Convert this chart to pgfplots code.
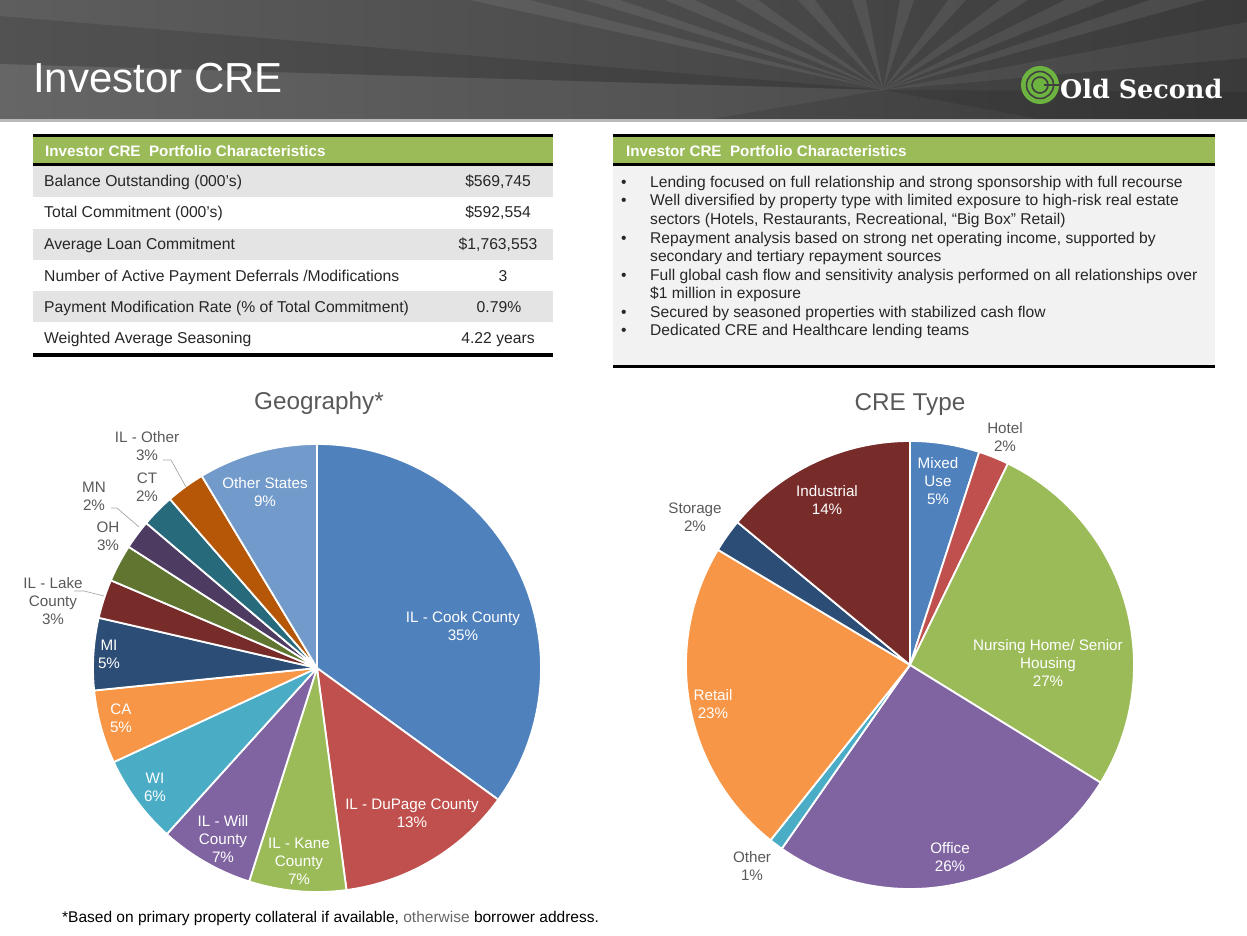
\documentclass[border=0pt]{standalone}
\usepackage{pgfplots}
\pgfplotsset{compat=1.18}
\usepackage{pgfplotstable}
\usepackage{fontspec}
\setmainfont{Liberation Sans}
\newfontfamily\logofont{DejaVu Serif}

\definecolor{cA}{HTML}{4F81BD}
\definecolor{cB}{HTML}{C0504D}
\definecolor{cC}{HTML}{9BBB59}
\definecolor{cD}{HTML}{8064A2}
\definecolor{cE}{HTML}{4BACC6}
\definecolor{cF}{HTML}{F79646}
\definecolor{cG}{HTML}{2C4D75}
\definecolor{cH}{HTML}{772C2A}
\definecolor{cI}{HTML}{5F7530}
\definecolor{cJ}{HTML}{4D3B62}
\definecolor{cK}{HTML}{276A7C}
\definecolor{cL}{HTML}{B65708}
\definecolor{cM}{HTML}{729ACA}
\definecolor{hdrL}{HTML}{5E5E5E}
\definecolor{hdrR}{HTML}{3A3A3A}
\definecolor{hgreen}{HTML}{9BBB59}
\definecolor{rowgray}{HTML}{E4E4E4}
\definecolor{boxgray}{HTML}{F2F2F2}
\definecolor{txtgray}{HTML}{595959}
\definecolor{leadgray}{HTML}{A6A6A6}
\definecolor{logogreen}{HTML}{6DB33F}

% Geography shares (%), clockwise from 12 o'clock
\pgfplotstableread{
name pct col
CookCounty 35.0 cA
DuPageCounty 12.9 cB
KaneCounty 7.0 cC
WillCounty 6.8 cD
WI 6.4 cE
CA 5.3 cF
MI 5.2 cG
LakeCounty 2.8 cH
OH 2.7 cI
MN 2.1 cJ
CT 2.4 cK
ILOther 2.8 cL
OtherStates 8.6 cM
}\geotable

% CRE type shares (%), clockwise from 12 o'clock
\pgfplotstableread{
name pct col
MixedUse 5.0 cA
Hotel 2.2 cB
NursingHome 26.6 cC
Office 25.9 cD
Other 1.0 cE
Retail 22.9 cF
Storage 2.4 cG
Industrial 14.0 cH
}\cretable

\newcommand\pieslices[2]{%
  \pgfplotstablegetrowsof{#1}%
  \pgfmathtruncatemacro\pieN{\pgfplotsretval-1}%
  \def\pieCum{0}%
  \pgfplotsforeachungrouped \pieI in {0,...,\pieN}{%
    \pgfplotstablegetelem{\pieI}{pct}\of{#1}\let\pieP\pgfplotsretval
    \pgfplotstablegetelem{\pieI}{col}\of{#1}\let\pieC\pgfplotsretval
    \pgfmathsetmacro\pieA{90-3.6*\pieCum}%
    \pgfmathsetmacro\pieB{90-3.6*(\pieCum+\pieP)}%
    \edef\pieTmp{\noexpand\filldraw[fill=\pieC,draw=white,line width=1.8pt,line join=round] (axis cs:0,0) -- ++(\pieA:#2) arc[start angle=\pieA,end angle=\pieB,radius=#2] -- cycle;}%
    \pieTmp
    \pgfmathsetmacro\pieCum{\pieCum+\pieP}%
  }%
}

\newcommand\tabfont{\fontsize{15.7}{18}\selectfont}
\newcommand\bulfont{\fontsize{15.6}{18}\selectfont}
\newcommand\labfont{\fontsize{15.2}{18}\selectfont}

\begin{document}
\begin{tikzpicture}[x=1pt,y=-1pt]
\path[use as bounding box] (0,0) rectangle (1247,936);

% ---------- header banner ----------
\begin{scope}
\clip (0,0) rectangle (1247,121);
\shade[left color=hdrL,right color=hdrR] (0,0) rectangle (1247,121);
\fill[black,opacity=0.12] (883,90) -- (0,16) -- (0,64) -- cycle;
\fill[white,opacity=0.05] (883,90) -- (0,64) -- (0,121) -- (700,121) -- cycle;
\foreach \xa/\xb in {470/530,585/620,665/695,735/758,798/815,852/866,900/914,948/966,1000/1028,1065/1105,1150/1205}
  \fill[white,opacity=0.08] (883,90) -- (\xa,0) -- (\xb,0) -- cycle;
\fill[white,opacity=0.06] (883,90) -- (1247,22) -- (1247,58) -- cycle;
\fill[black,opacity=0.10] (883,90) -- (1247,92) -- (1247,121) -- (1050,121) -- cycle;
\end{scope}
\fill[gray!55] (0,119.5) rectangle (1247,122);
\node[anchor=base west,inner sep=0,text=white,font=\fontsize{42}{48}\selectfont] at (33,93) {Investor CRE};
% logo
\fill[logogreen] (1040,85) circle (19);
\draw[black!75,line width=1.6pt] (1040,85) circle (13.5);
\draw[black!75,line width=1.6pt] (1040,85) circle (8);
\fill[logogreen] (1040,85) circle (4.5);
\draw[black!75,line width=1.4pt] (1044,85) -- (1059,85);
\node[anchor=base west,inner sep=0,text=white,font=\logofont\bfseries\fontsize{25.5}{28}\selectfont] at (1060,99) {Old Second};

% ---------- left table ----------
\fill[black] (33,134) rectangle (553,137.5);
\fill[hgreen] (33,137.5) rectangle (553,163);
\fill[black] (33,163) rectangle (553,166);
\fill[rowgray] (33,166) rectangle (553,197);
\fill[rowgray] (33,228.5) rectangle (553,260);
\fill[rowgray] (33,291) rectangle (553,322);
\fill[black] (33,353) rectangle (553,357);
\node[anchor=west,inner sep=0,text=white,font=\bfseries\fontsize{15.2}{17}\selectfont] at (45,151) {Investor CRE\ \ Portfolio Characteristics};
\begin{scope}[every node/.style={inner sep=0,font=\tabfont,text=black!85}]
\node[anchor=base west] at (44,187) {Balance Outstanding (000’s)};
\node[anchor=base west] at (44,218) {Total Commitment (000’s)};
\node[anchor=base west] at (44,249.5) {Average Loan Commitment};
\node[anchor=base west] at (44,281) {Number of Active Payment Deferrals /Modifications};
\node[anchor=base west] at (44,312) {Payment Modification Rate (\% of Total Commitment)};
\node[anchor=base west] at (44,343) {Weighted Average Seasoning};
\node[anchor=base] at (498,187) {\$569,745};
\node[anchor=base] at (498,218) {\$592,554};
\node[anchor=base] at (498,249.5) {\$1,763,553};
\node[anchor=base] at (503,281) {3};
\node[anchor=base] at (499,312) {0.79\%};
\node[anchor=base] at (498,343) {4.22 years};
\end{scope}

% ---------- right box ----------
\fill[black] (613,134) rectangle (1215,137.5);
\fill[hgreen] (613,137.5) rectangle (1215,163);
\fill[black] (613,163) rectangle (1215,166);
\fill[boxgray] (613,166) rectangle (1215,364.5);
\fill[black] (613,364.5) rectangle (1215,368);
\node[anchor=west,inner sep=0,text=white,font=\bfseries\fontsize{15.2}{17}\selectfont] at (626,151) {Investor CRE\ \ Portfolio Characteristics};
\begin{scope}[every node/.style={inner sep=0,font=\bulfont,text=black!85,anchor=base west}]
\foreach \yy in {187.5,206,243,280,317,335.5} \node at (621,\yy) {•};
\node at (650,187.5) {Lending focused on full relationship and strong sponsorship with full recourse};
\node at (650,206) {Well diversified by property type with limited exposure to high-risk real estate};
\node at (650,224.5) {sectors (Hotels, Restaurants, Recreational, “Big Box” Retail)};
\node at (650,243) {Repayment analysis based on strong net operating income, supported by};
\node at (650,261.5) {secondary and tertiary repayment sources};
\node at (650,280) {Full global cash flow and sensitivity analysis performed on all relationships over};
\node at (650,298.5) {\$1 million in exposure};
\node at (650,317) {Secured by seasoned properties with stabilized cash flow};
\node at (650,335.5) {Dedicated CRE and Healthcare lending teams};
\end{scope}

% ---------- pies ----------
\begin{axis}[at={(317pt,-668pt)},anchor=center,scale only axis,width=448pt,height=448pt,
  xmin=-1,xmax=1,ymin=-1,ymax=1,hide axis,clip=false]
\pieslices{\geotable}{224pt}
\end{axis}
\begin{axis}[at={(910pt,-665pt)},anchor=center,scale only axis,width=448pt,height=448pt,
  xmin=-1,xmax=1,ymin=-1,ymax=1,hide axis,clip=false]
\pieslices{\cretable}{224pt}
\end{axis}

% titles
\node[text=txtgray,font=\fontsize{24.3}{26}\selectfont] at (319,403) {Geography*};
\node[text=txtgray,font=\fontsize{24.3}{26}\selectfont] at (910,405) {CRE Type};

% geography labels
\begin{scope}[every node/.style={align=center,inner sep=0,font=\labfont,text=white}]
\node at (463,626) {IL - Cook County\\35\%};
\node at (412,813) {IL - DuPage County\\13\%};
\node at (299,861) {IL - Kane\\County\\7\%};
\node at (223,839) {IL - Will\\County\\7\%};
\node at (155,787) {WI\\6\%};
\node at (121,718) {CA\\5\%};
\node at (109,654) {MI\\5\%};
\node at (265,492) {Other States\\9\%};
\end{scope}
\begin{scope}[every node/.style={align=center,inner sep=0,font=\labfont,text=txtgray}]
\node at (53,601) {IL - Lake\\County\\3\%};
\node at (108,536) {OH\\3\%};
\node at (94,496) {MN\\2\%};
\node at (147,487) {CT\\2\%};
\node at (147,446) {IL - Other\\3\%};
\end{scope}
\draw[leadgray,line width=0.7pt] (163,460) -- (171,460) -- (186,487);
\draw[leadgray,line width=0.7pt] (111,508) -- (117,508) -- (139,527);
\draw[leadgray,line width=0.7pt] (74,591) -- (84,591) -- (104,596);

% CRE labels
\begin{scope}[every node/.style={align=center,inner sep=0,font=\labfont,text=white}]
\node at (938,481) {Mixed\\Use\\5\%};
\node at (827,500) {Industrial\\14\%};
\node at (1048,663) {Nursing Home/ Senior\\Housing\\27\%};
\node at (713,704) {Retail\\23\%};
\node at (950,857) {Office\\26\%};
\end{scope}
\begin{scope}[every node/.style={align=center,inner sep=0,font=\labfont,text=txtgray}]
\node at (1005,437) {Hotel\\2\%};
\node at (695,517) {Storage\\2\%};
\node at (752,866) {Other\\1\%};
\end{scope}

% footnote
\node[anchor=base west,inner sep=0,font=\fontsize{15.5}{17}\selectfont,text=black] at (62,922) {*Based on primary property collateral if available, \textcolor{black!60}{otherwise} borrower address.};
\end{tikzpicture}
\end{document}
